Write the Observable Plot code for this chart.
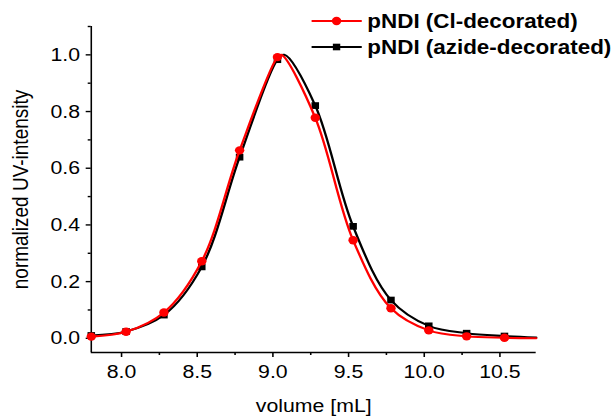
<!DOCTYPE html>
<html><head><meta charset="utf-8">
<script src="https://cdn.jsdelivr.net/npm/d3@7"></script>
<script src="https://cdn.jsdelivr.net/npm/@observablehq/plot@0.6"></script>
<style>
html,body{margin:0;background:#fff;overflow:hidden;}
#wrap{position:relative;width:547.3px;height:419px;font-family:Arial,"Liberation Sans",sans-serif;transform:scaleX(1.12);transform-origin:0 0;}
#legend{position:absolute;left:0;top:0;width:547px;height:70px;pointer-events:none;}
.row{position:absolute;left:277.5px;display:flex;align-items:center;font-weight:bold;font-size:20px;white-space:nowrap;color:#000;}
.row svg{display:block;margin-right:5px;}
</style></head><body><div id="wrap"><div id="chart"></div><div id="legend"></div></div>
<script>
// marker positions (mL) and normalized intensities
const volume = [7.80, 8.03, 8.28, 8.53, 8.78, 9.03, 9.28, 9.53, 9.78, 10.03, 10.28, 10.53];
const clDecorated    = [0.006, 0.023, 0.091, 0.272, 0.663, 0.992, 0.778, 0.346, 0.106, 0.028, 0.007, 0.002];
const azideDecorated = [0.010, 0.024, 0.082, 0.252, 0.639, 0.983, 0.821, 0.395, 0.135, 0.044, 0.018, 0.008];
// continuous traces (markers plus peak and tail)
const clLineVolume    = [7.80, 8.03, 8.28, 8.53, 8.78, 9.03, 9.055, 9.28, 9.53, 9.78, 10.03, 10.28, 10.53, 10.74];
const clLine          = [0.006, 0.023, 0.091, 0.272, 0.663, 0.992, 1.000, 0.778, 0.346, 0.106, 0.028, 0.007, 0.002, 0.000];
const azideLineVolume = [7.80, 8.03, 8.28, 8.53, 8.78, 9.03, 9.075, 9.28, 9.53, 9.78, 10.03, 10.28, 10.53, 10.74];
const azideLine       = [0.010, 0.024, 0.082, 0.252, 0.639, 0.983, 1.000, 0.821, 0.395, 0.135, 0.044, 0.018, 0.008, 0.003];

const seriesNames  = ["pNDI (Cl-decorated)", "pNDI (azide-decorated)"];
const seriesColors = ["#ff0000", "#000000"];
const xDomain = [7.8, 10.74];
const yDomain = [-0.05, 1.1];
const xTicks = [8.0, 8.5, 9.0, 9.5, 10.0, 10.5];
const xMinorTicks = [8.25, 8.75, 9.25, 9.75, 10.25];
const yTicks = [0.0, 0.2, 0.4, 0.6, 0.8, 1.0];
const yMinorTicks = [0.1, 0.3, 0.5, 0.7, 0.9, 1.1];

const pts = (xs, ys) => ys.map((y, i) => ({x: xs[i], y}));
const clPts = pts(volume, clDecorated);
const azPts = pts(volume, azideDecorated);
const clLinePts = pts(clLineVolume, clLine);
const azLinePts = pts(azideLineVolume, azideLine);

const chart = Plot.plot({
  width: 547.3,
  height: 419,
  marginLeft: 81,
  marginRight: 69,
  marginTop: 26,
  marginBottom: 67,
  style: {fontFamily: "Arial, 'Liberation Sans', sans-serif", fontSize: "19px", color: "#000", background: "#fff", overflow: "visible"},
  x: {domain: xDomain},
  y: {domain: yDomain},
  marks: [
    Plot.axisX(xTicks, {tickSize: 5, tickPadding: 7.5, strokeWidth: 1.4, tickFormat: d => d.toFixed(1), fontSize: 19,
      label: "volume [mL]", labelAnchor: "center", labelOffset: 60, labelArrow: "none"}),
    Plot.axisX(xMinorTicks, {tickSize: 3, strokeWidth: 1.4, tickFormat: () => "", label: null}),
    Plot.axisY(yTicks, {tickSize: 4.5, tickPadding: 5.5, strokeWidth: 1.4, tickFormat: d => d.toFixed(1), fontSize: 19,
      label: "normalized UV-intensity", labelAnchor: "center", labelOffset: 70, labelArrow: "none"}),
    Plot.axisY(yMinorTicks, {tickSize: 2.7, strokeWidth: 1.4, tickFormat: () => "", label: null}),
    Plot.ruleX([xDomain[0]], {stroke: "#000", strokeWidth: 1.4}),
    Plot.ruleY([yDomain[0]], {stroke: "#000", strokeWidth: 1.4}),
    Plot.line(azLinePts, {x: "x", y: "y", stroke: seriesColors[1], strokeWidth: 2.1, curve: "catmull-rom"}),
    Plot.dot(azPts, {x: "x", y: "y", symbol: "square", r: 3.8, fill: seriesColors[1], stroke: null}),
    Plot.line(clLinePts, {x: "x", y: "y", stroke: seriesColors[0], strokeWidth: 2.1, curve: "catmull-rom"}),
    Plot.dot(clPts, {x: "x", y: "y", symbol: "circle", r: 4.2, fill: seriesColors[0], stroke: null})
  ]
});
document.getElementById("chart").appendChild(chart);

// legend
const legend = document.getElementById("legend");
const rowY = [21, 47];
seriesNames.forEach((name, i) => {
  const row = document.createElement("div");
  row.className = "row";
  row.style.top = (rowY[i] - 12) + "px";
  row.style.height = "24px";
  const sym = i === 0
    ? `<circle cx="22.5" cy="6" r="4.2" fill="${seriesColors[i]}"/>`
    : `<rect x="19.2" y="2.7" width="6.6" height="6.6" fill="${seriesColors[i]}"/>`;
  row.innerHTML = `<svg width="45.5" height="12"><line x1="0" x2="45.5" y1="6" y2="6" stroke="${seriesColors[i]}" stroke-width="2.1"/>${sym}</svg><span>${name}</span>`;
  legend.appendChild(row);
});
</script></body></html>
